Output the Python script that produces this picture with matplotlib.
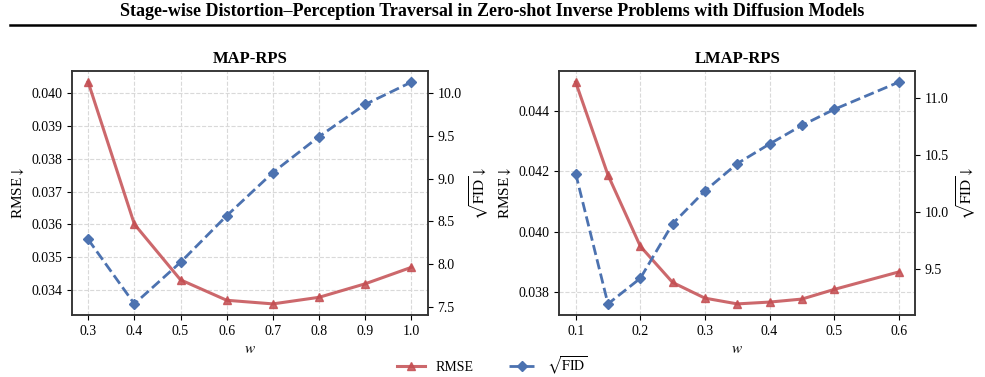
"""Stage-wise distortion-perception traversal (MAP-RPS / LMAP-RPS)
"""
import numpy as np
import matplotlib
matplotlib.use('Agg')
import matplotlib.pyplot as plt
import matplotlib as mpl
from matplotlib.lines import Line2D

params = {
    'font.family': 'serif',
    'font.serif': ['Liberation Serif', 'DejaVu Serif'],
    'mathtext.fontset': 'stix',
    'font.size': 10,
    'axes.labelsize': 11,
    'xtick.labelsize': 10,
    'ytick.labelsize': 10,
    'axes.edgecolor': '#333333',
    'axes.linewidth': 1.1,
}
mpl.rcParams.update(params)

# MAP-RPS
w_map = [0.3, 0.4, 0.5, 0.6, 0.7, 0.8, 0.9, 1.0]
rmse_map = [0.04032, 0.03601, 0.03432, 0.03370, 0.03359, 0.03379, 0.03420, 0.03470]
fid_map = [8.290, 7.535, 8.022, 8.567, 9.073, 9.494, 9.871, 10.132]

# LMAP-RPS
w_lmap = [0.1, 0.15, 0.2, 0.25, 0.3, 0.35, 0.4, 0.45, 0.5, 0.6]
rmse_lmap = [0.04496, 0.04188, 0.03952, 0.03832, 0.03780, 0.03761,
             0.03767, 0.03777, 0.03809, 0.03867]
fid_lmap = [10.339, 9.197, 9.421, 9.899, 10.187, 10.426, 10.598, 10.761,
            10.901, 11.140]

red = '#C44E52'
blue = '#4C72B0'

fig, axes = plt.subplots(1, 2, figsize=(9.85, 3.77), dpi=100)
fig.subplots_adjust(left=0.0731, right=0.929, top=0.8117, bottom=0.1645, wspace=0.371)

panels = [
    ('MAP-RPS', w_map, rmse_map, fid_map, w_map, '%.3f'),
    ('LMAP-RPS', w_lmap, rmse_lmap, fid_lmap, [0.1, 0.2, 0.3, 0.4, 0.5, 0.6], '%.3f'),
]

for ax, (name, w, rmse, fid, xt, fmt) in zip(axes, panels):
    ax.plot(w, rmse, '-', color=red, alpha=0.85, lw=2.2, marker='^', ms=6,
            label='RMSE')
    ax2 = ax.twinx()
    ax2.plot(w, fid, '--', color=blue, lw=2.0, marker='D', ms=5.5,
             label=r'$\sqrt{\mathrm{FID}}$')
    ax.set_xticks(xt)
    ax.set_xticklabels(['%.1f' % v for v in xt])
    ax.yaxis.set_major_formatter(mpl.ticker.FormatStrFormatter(fmt))
    ax2.yaxis.set_major_formatter(mpl.ticker.FormatStrFormatter('%.1f'))
    ax.grid(True, ls='--', color='#d9d9d9', lw=0.8)
    ax.set_axisbelow(True)
    ax.set_xlabel(r'$w$')
    ax.set_ylabel(r'RMSE$\downarrow$')
    ax2.set_ylabel(r'$\sqrt{\mathrm{FID}}\downarrow$')
    ax.set_title(name, fontweight='bold', fontsize=12)

axes[1].yaxis.set_major_locator(mpl.ticker.MultipleLocator(0.002))

fig.suptitle('Stage-wise Distortion\u2013Perception Traversal in Zero-shot Inverse Problems with Diffusion Models',
             fontweight='bold', fontsize=13, y=0.993)
fig.add_artist(Line2D([0.010, 0.990], [0.934, 0.934], color='black', lw=1.8,
                      transform=fig.transFigure))

handles = [
    Line2D([], [], color=red, alpha=0.85, lw=2.2, marker='^', ms=6),
    Line2D([], [], color=blue, lw=2.0, ls='--', marker='D', ms=5.5),
]
fig.legend(handles, ['RMSE', r'$\sqrt{\mathrm{FID}}$'], loc='center',
           bbox_to_anchor=(0.5, 0.03), ncol=2, frameon=False, fontsize=10,
           columnspacing=2.5)

plt.savefig('out.png', dpi=100)
